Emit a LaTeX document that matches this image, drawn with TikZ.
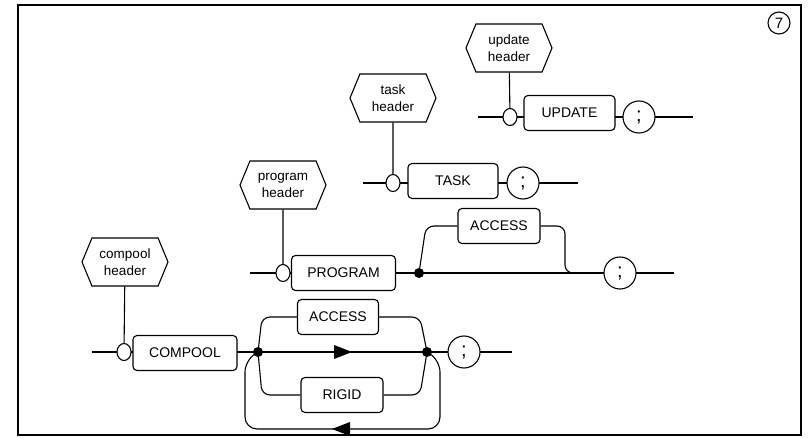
\documentclass[tikz,border=0pt]{standalone}
\usepackage{fontspec}
\setmainfont{Liberation Sans}
\usetikzlibrary{shapes.geometric,shapes.symbols,arrows.meta}
\tikzset{
  kw/.style={draw,rounded corners=4pt,fill=white,minimum height=35pt,inner sep=0pt},
  hdr/.style={draw,fill=white,shape=signal,signal to=east and west,signal pointer angle=135,
    minimum width=86pt,minimum height=48pt,inner sep=1pt,align=center,font=\fontsize{13.5}{17}\selectfont},
  semi/.style={draw,circle,fill=white,minimum size=32pt,inner sep=0pt,font=\fontsize{20}{20}\selectfont},
  opt/.style={draw,ellipse,fill=white,minimum width=14pt,minimum height=17pt,inner sep=0pt},
  dot/.style={circle,fill=black,minimum size=10pt,inner sep=0pt},
}
\begin{document}
\begin{tikzpicture}[x=1pt,y=-1pt,line width=1.1pt,font=\fontsize{14}{16}\selectfont]
\useasboundingbox (0,0) rectangle (808,438);
\draw[line width=1.2pt] (18,5) rectangle (801,435);
\node[draw,circle,inner sep=1pt,minimum size=22pt,font=\fontsize{15}{15}\selectfont] (num) at (779,23) {7};

% update
\coordinate (uIn) at (478,117); \coordinate (uOut) at (693,117);
\draw (uIn) -- (uOut);
\node[hdr] (uH) at (509,48) {update\\header};
\node[opt] (uO) at (510,117) {};
\draw (uH) -- (uO);
\node[kw,minimum width=91pt] (uK) at (569.5,113) {UPDATE};
\node[semi] (uS) at (639,117) {;};

% task
\coordinate (tIn) at (363,183); \coordinate (tOut) at (578,183);
\draw (tIn) -- (tOut);
\node[hdr] (tH) at (393,98) {task\\header};
\node[opt] (tO) at (393,183) {};
\draw (tH) -- (tO);
\node[kw,minimum width=90pt] (tK) at (453,181) {TASK};
\node[semi] (tS) at (523,183) {;};

% program
\coordinate (pIn) at (250,273); \coordinate (pOut) at (674,273);
\draw (pIn) -- (pOut);
\node[hdr] (pH) at (283,185) {program\\header};
\node[opt] (pO) at (283,273) {};
\draw (pH) -- (pO);
\node[kw,minimum width=104pt] (pK) at (343.5,273) {PROGRAM};
\node[dot] (pD) at (419,273) {};
\node[kw,minimum width=82pt] (pA) at (499,226) {ACCESS};
\draw[rounded corners=8pt] (pD.center) -- (426,226) -- (pA.west);
\draw[rounded corners=8pt] (pA.east) -- (565,226) -- (565,273) -- (580,273);
\node[semi] (pS) at (620,273) {;};

% compool
\coordinate (cIn) at (92,352); \coordinate (cOut) at (512,352);
\draw (cIn) -- (cOut);
\node[hdr] (cH) at (125,262) {compool\\header};
\node[opt] (cO) at (124,352) {};
\draw (cH) -- (cO);
\node[kw,minimum width=104pt] (cK) at (185,353) {COMPOOL};
\node[dot] (cD1) at (258,352) {};
\node[dot] (cD2) at (427,352) {};
\node[kw,minimum width=81pt] (cA) at (338,317) {ACCESS};
\node[kw,minimum width=82pt] (cR) at (342,395) {RIGID};
\draw[rounded corners=8pt] (cD1.center) -- (262,317) -- (cA.west);
\draw[rounded corners=8pt] (cA.east) -- (420,317) -- (cD2.center);
\draw[rounded corners=8pt] (cD1.center) -- (262,395) -- (cR.west);
\draw[rounded corners=8pt] (cR.east) -- (420,395) -- (cD2.center);
\draw[rounded corners=12pt] (cD2.center) -- (440,360) -- (440,429) -- (245,429) -- (245,360) -- (cD1.center);
\fill (334,345) -- (352,352) -- (334,359) -- cycle;
\fill (350,422) -- (332,429) -- (350,436) -- cycle;
\node[semi] (cS) at (464,352) {;};
\end{tikzpicture}
\end{document}
